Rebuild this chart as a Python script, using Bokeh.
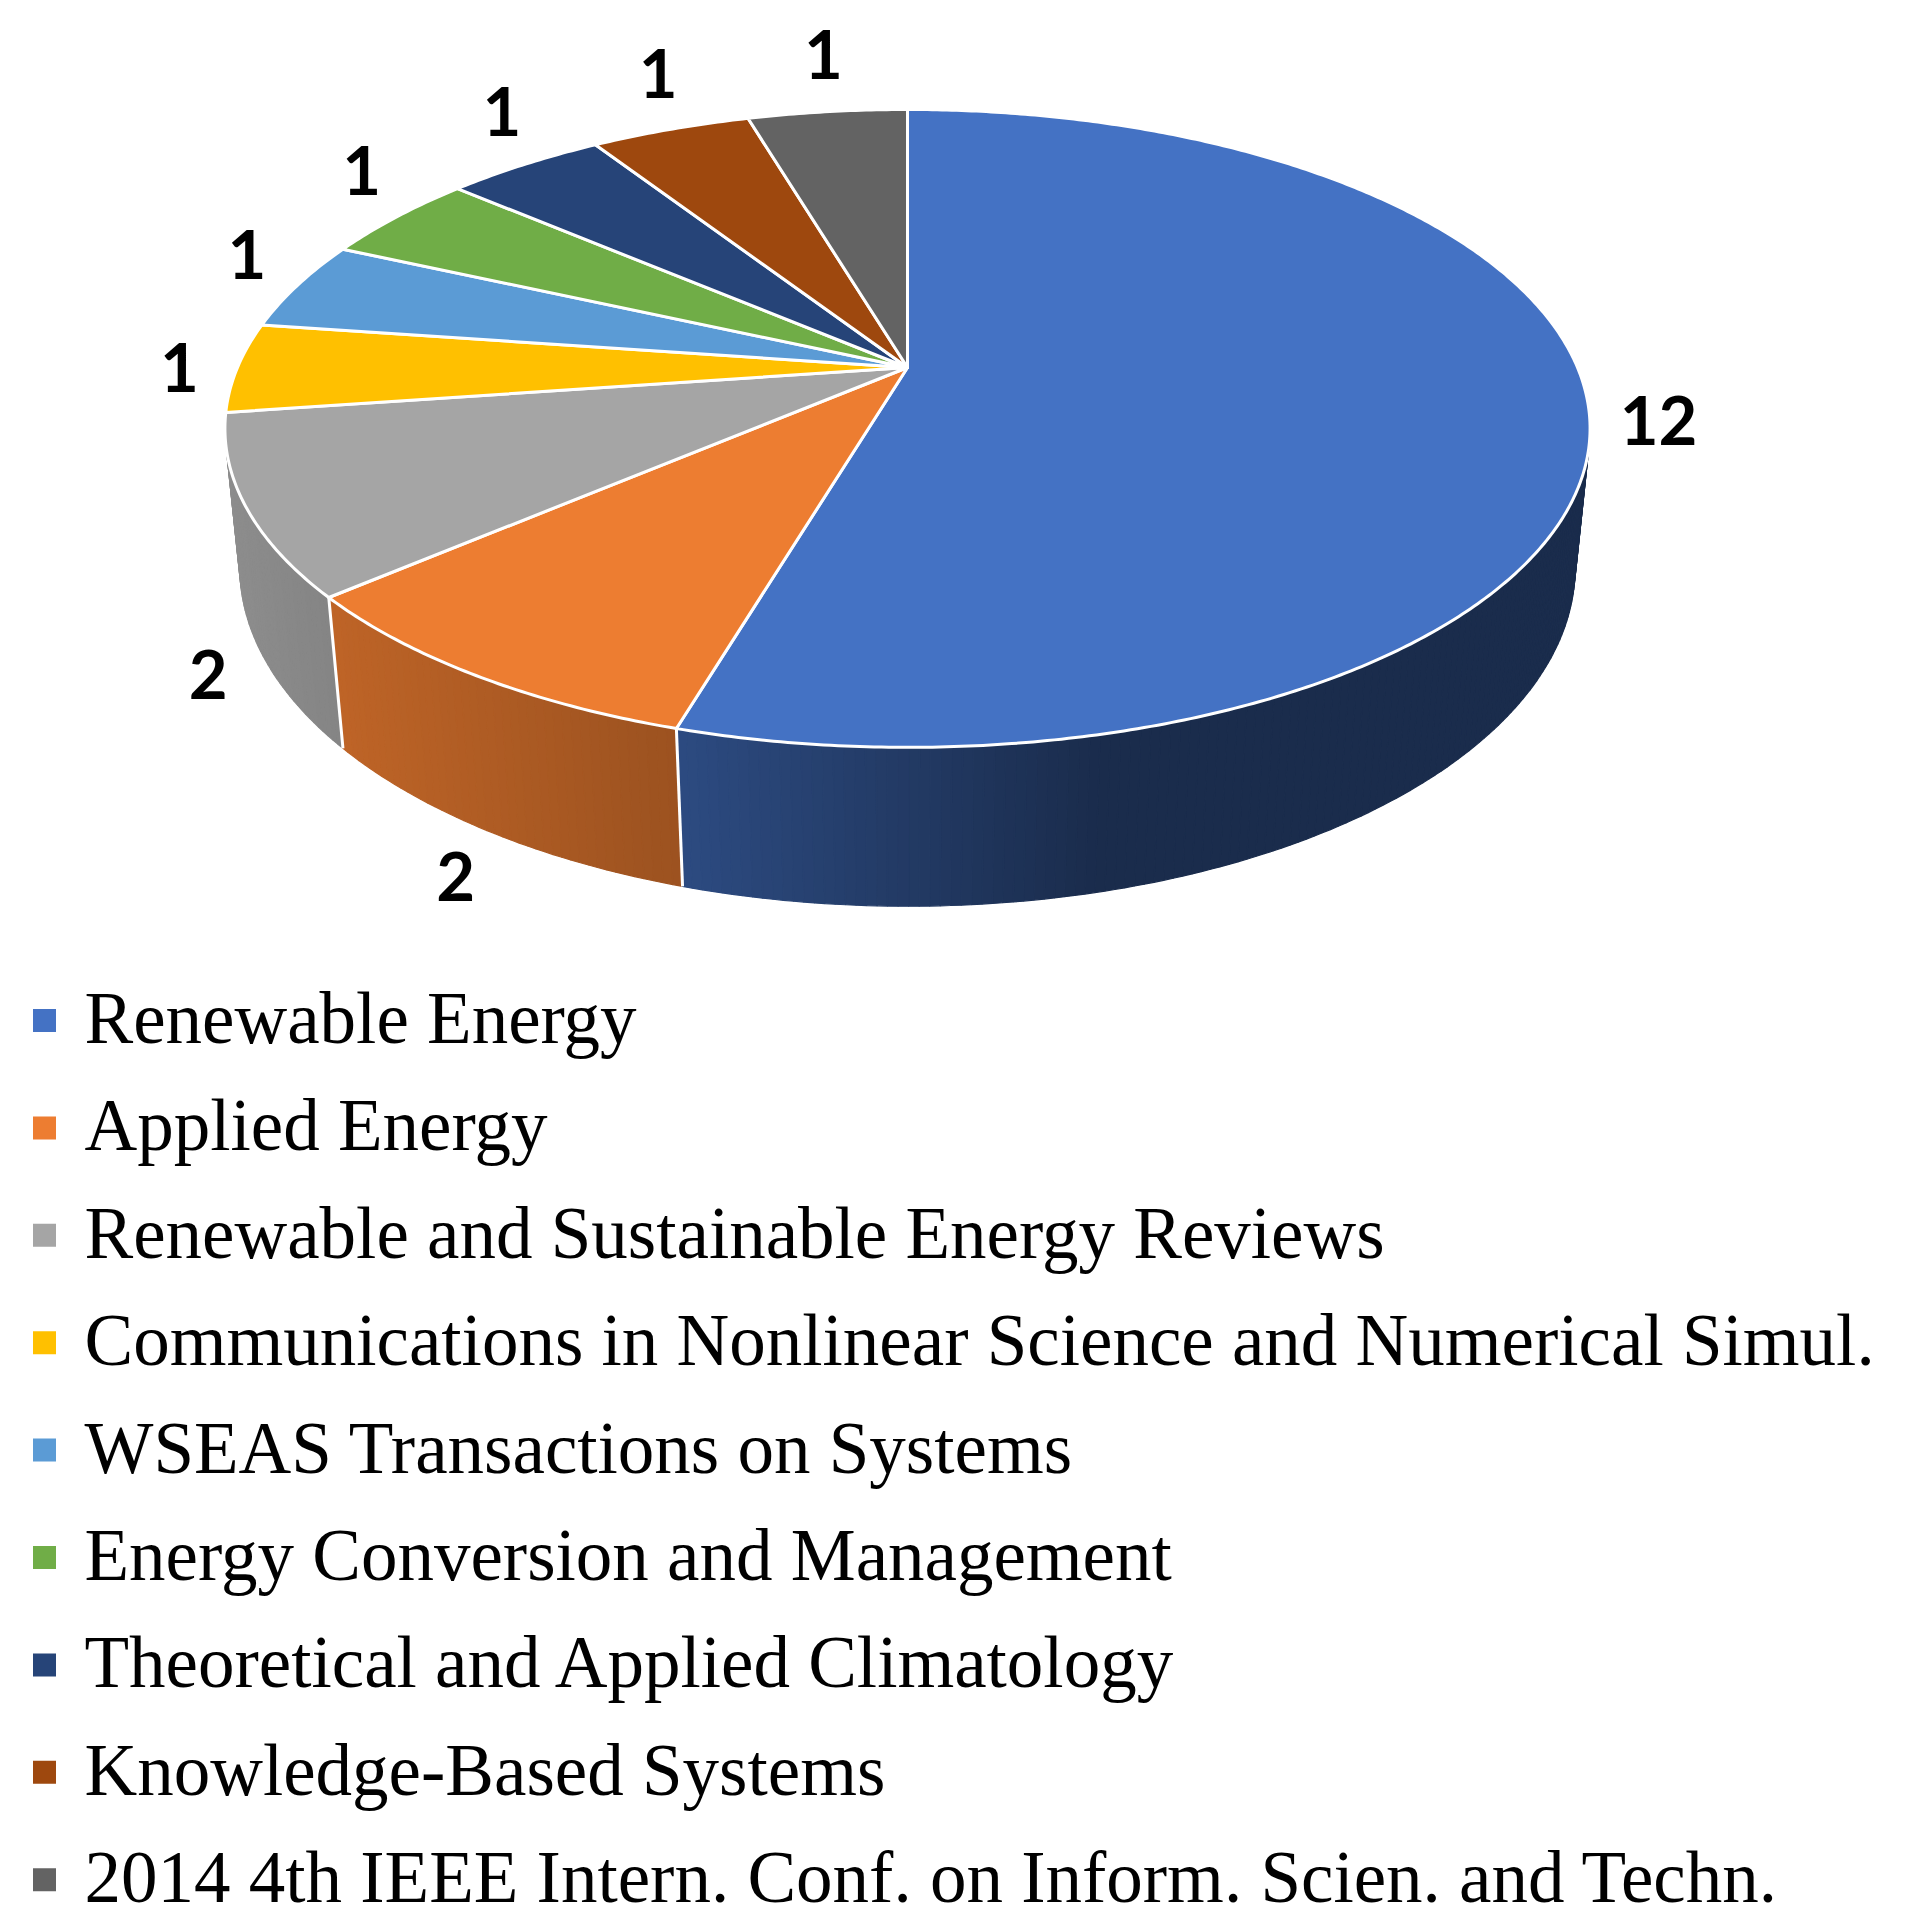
import numpy as np
from bokeh.plotting import figure
from bokeh.models import Range1d
from bokeh.embed import file_html
from bokeh.resources import INLINE
from bokeh.core.properties import value

# ---------------- data ----------------
journals = [
    "Renewable Energy",
    "Applied Energy",
    "Renewable and Sustainable Energy Reviews",
    "Communications in Nonlinear Science and Numerical Simul.",
    "WSEAS Transactions on Systems",
    "Energy Conversion and Management",
    "Theoretical and Applied Climatology",
    "Knowledge-Based Systems",
    "2014 4th IEEE Intern. Conf. on Inform. Scien. and Techn.",
]
counts = [12, 2, 2, 1, 1, 1, 1, 1, 1]
colors = ["#4472C4", "#ED7D31", "#A5A5A5", "#FFC000", "#5B9BD5",
          "#70AD47", "#264478", "#9E480E", "#636363"]

# ---------------- canvas ----------------
W, H = 1897, 1923
p = figure(width=W, height=H, x_range=Range1d(0, W), y_range=Range1d(H, 0),
           output_backend="svg", toolbar_location=None, min_border=0)
p.axis.visible = False
p.grid.visible = False
p.outline_line_color = None
p.background_fill_color = "white"

# ---------------- 3D pie projection ----------------
CX = 907.0
TOP = dict(cy=367.0, a=670.0, b=307.3, k=0.191)
BOT = dict(cy=504.0, a=656.0, b=327.0, k=0.186)


def proj(theta_deg, g):
    t = np.radians(theta_deg)
    w = 1 + g["k"] * np.cos(t)
    return CX + g["a"] * np.sin(t) / w, g["cy"] - g["b"] * np.cos(t) / w


def hex2rgb(h):
    h = h.lstrip("#")
    return tuple(int(h[i:i + 2], 16) for i in (0, 2, 4))


def shade(hexcol, x):
    f = float(np.interp(x, [220, 340, 677, 1100, 1600], [0.86, 0.80, 0.66, 0.39, 0.39]))
    r, g, b = hex2rgb(hexcol)
    return "#%02x%02x%02x" % (int(r * f), int(g * f), int(b * f))


total = float(sum(counts))
edges = np.concatenate([[0.0], np.cumsum(counts) / total * 360.0])

# side wall (front half), thin strips with a horizontal gradient, back-to-front
strips = []
for i in range(len(counts)):
    s, e = max(edges[i], 85.0), min(edges[i + 1], 275.0)
    if e <= s:
        continue
    n = int(np.ceil((e - s) / 0.75))
    th = np.linspace(s, e, n + 1)
    for j in range(n):
        a0, a1 = th[j], th[j + 1]
        tx0, ty0 = proj(a0, TOP)
        tx1, ty1 = proj(a1, TOP)
        bx0, by0 = proj(a0, BOT)
        bx1, by1 = proj(a1, BOT)
        depth = np.cos(np.radians((a0 + a1) / 2))
        strips.append((depth, [tx0, tx1, bx1, bx0], [ty0, ty1, by1, by0],
                       shade(colors[i], (tx0 + tx1) / 2)))
strips.sort(key=lambda t: -t[0])
wx = [s[1] for s in strips]
wy = [s[2] for s in strips]
wc = [s[3] for s in strips]
p.patches(wx, wy, fill_color=wc, line_color=wc, line_width=1.2)

# white edges between wall segments
for ang in edges[1:-1]:
    if 90 < ang < 258:
        tx, ty = proj(ang, TOP)
        bx, by = proj(ang, BOT)
        p.line([tx, bx], [ty, by], line_color="white", line_width=3)

# top face
fx, fy = [], []
for i in range(len(counts)):
    th = np.linspace(edges[i], edges[i + 1], max(4, int((edges[i + 1] - edges[i]) / 0.5)))
    rx, ry = proj(th, TOP)
    fx.append([CX] + list(rx))
    fy.append([TOP["cy"]] + list(ry))
p.patches(fx, fy, fill_color=colors, line_color="white", line_width=3, line_join="round")

# value labels (outside end)
lx, ly = [], []
for i in range(len(counts)):
    m = (edges[i] + edges[i + 1]) / 2
    t = np.radians(m)
    s = float(np.clip((-np.cos(t) - 0.15) / 0.25, 0, 1))
    tx, ty = proj(m, TOP)
    bx, by = proj(m, BOT)
    ax, ay = tx + s * (bx - tx), ty + s * (by - ty)
    if np.cos(t) >= 0:
        # back half: push out along the rim's normal
        nx, ny = np.sin(t) / TOP["a"], -np.cos(t) / TOP["b"]
        nn = np.hypot(nx, ny)
        lx.append(ax + nx / nn * 60)
        ly.append(ay + ny / nn * 57)
    else:
        dx = 46 + 12 * len(str(counts[i]))
        lx.append(ax + np.sin(t) * dx)
        ly.append(ay - np.cos(t) * 55)
p.text(x=lx, y=ly, text=[str(c) for c in counts], text_font=value("Lato"),
       text_font_style="bold", text_font_size="67px", text_color="black",
       text_align="center", text_baseline="middle")

# legend
row0, step = 1020.0, 107.4
ry = [row0 + i * step for i in range(len(journals))]
p.scatter(x=[44] * len(journals), y=ry, marker="square", size=23,
          fill_color=colors, line_color=None)
p.text(x=[84] * len(journals), y=[v - 2 for v in ry], text=journals,
       text_font=value("Liberation Serif"), text_font_size="73px", text_color="black",
       text_align="left", text_baseline="middle")

open("out.html", "w").write(file_html(p, INLINE))
